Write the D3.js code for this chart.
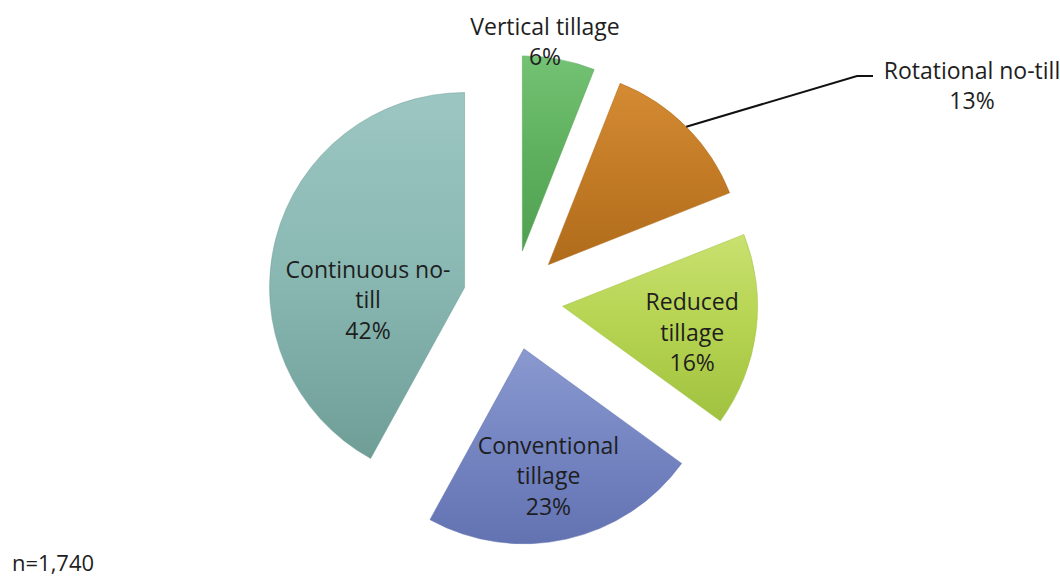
<!DOCTYPE html>
<html>
<head>
<meta charset="utf-8">
<script src="https://cdn.jsdelivr.net/npm/d3@7"></script>
<style>
  body { margin: 0; background: #fff; }
  svg { display: block; font-family: "Open Sans", Lato, sans-serif; }
</style>
</head>
<body>
<svg width="1060" height="580"></svg>
<script>
// tillage practice shares, clockwise from 12 o'clock
const categories = ["Vertical tillage", "Rotational no-till", "Reduced tillage", "Conventional tillage", "Continuous no-till"]
const shares = [6, 13, 16, 23, 42]
const labelLines = [["Vertical tillage"], ["Rotational no-till"], ["Reduced", "tillage"], ["Conventional", "tillage"], ["Continuous no-", "till"]]
const sampleNote = "n=1,740"

// top / middle / bottom shades of each slice
const colors = [
    ["#74c274", "#5eb05e", "#50a051"],
    ["#d48b33", "#c27a25", "#b06c1b"],
    ["#c9e170", "#b5d350", "#a0c240"],
    ["#8a99cf", "#7585c2", "#6373b2"],
    ["#9cc6c2", "#89b8b3", "#6f9e97"]
]

const cx = 513, cy = 300, radius = 195, explode = 50
const lineGap = 30.5
const fontSize = 23

const svg = d3.select("svg")
const defs = svg.append("defs")

colors.forEach(function(c, i) {
    let grad = defs.append("linearGradient")
        .attr("id", "grad" + i)
        .attr("x1", 0).attr("y1", 0).attr("x2", 0).attr("y2", 1)
    grad.append("stop").attr("offset", "0%").attr("stop-color", c[0])
    grad.append("stop").attr("offset", "50%").attr("stop-color", c[1])
    grad.append("stop").attr("offset", "100%").attr("stop-color", c[2])
})

let pie = d3.pie().sort(null).value(function(d) { return d })
let arcs = pie(shares)

let arc = d3.arc().innerRadius(0).outerRadius(radius)

// offset of each slice along its middle angle
function apex(d) {
    let mid = (d.startAngle + d.endAngle) / 2
    return [cx + Math.sin(mid) * explode, cy - Math.cos(mid) * explode]
}
function along(d, dist) {
    let mid = (d.startAngle + d.endAngle) / 2
    let a = apex(d)
    return [a[0] + Math.sin(mid) * dist, a[1] - Math.cos(mid) * dist]
}

let g = svg.append("g")

g.selectAll("path.slice")
    .data(arcs)
    .enter()
    .append("path")
    .attr("class", "slice")
    .attr("transform", function(d) { return "translate(" + apex(d) + ")" })
    .attr("d", arc)
    .attr("fill", function(d, i) { return "url(#grad" + i + ")" })
    .attr("stroke", function(d, i) { return colors[i][2] })
    .attr("stroke-opacity", 0.5)
    .attr("stroke-width", 1)

// labels: inside ones sit near the centroid, nudged like the original
let insideNudge = { 2: [0, 10], 3: [-4, 0], 4: [30, 45] }

function writeLines(x, y, lines) {
    let t = svg.append("text")
        .attr("text-anchor", "middle")
        .attr("font-size", fontSize)
        .attr("fill", "#1e1e1e")
    let n = lines.length
    lines.forEach(function(s, k) {
        t.append("tspan")
            .attr("x", x)
            .attr("y", y + (k - (n - 1) / 2) * lineGap)
            .attr("dy", "0.35em")
            .text(s)
    })
}

arcs.forEach(function(d, i) {
    let lines = labelLines[i].concat([shares[i] + "%"])
    if (insideNudge[i]) {
        let p = along(d, radius * 0.67)
        writeLines(p[0] + insideNudge[i][0], p[1] + insideNudge[i][1], lines)
    }
})

// Vertical tillage: above its slice
writeLines(545, 42, labelLines[0].concat([shares[0] + "%"]))

// Rotational no-till: outside with leader line
let start = along(arcs[1], radius)
svg.append("polyline")
    .attr("points", [start, [857, 76], [873, 76]].map(function(p) { return p.join(",") }).join(" "))
    .attr("fill", "none")
    .attr("stroke", "#111")
    .attr("stroke-width", 2)
writeLines(972, 86, labelLines[1].concat([shares[1] + "%"]))

svg.append("text")
    .attr("x", 12)
    .attr("y", 571)
    .attr("font-size", 22)
    .attr("fill", "#1e1e1e")
    .text(sampleNote)
</script>
</body>
</html>
